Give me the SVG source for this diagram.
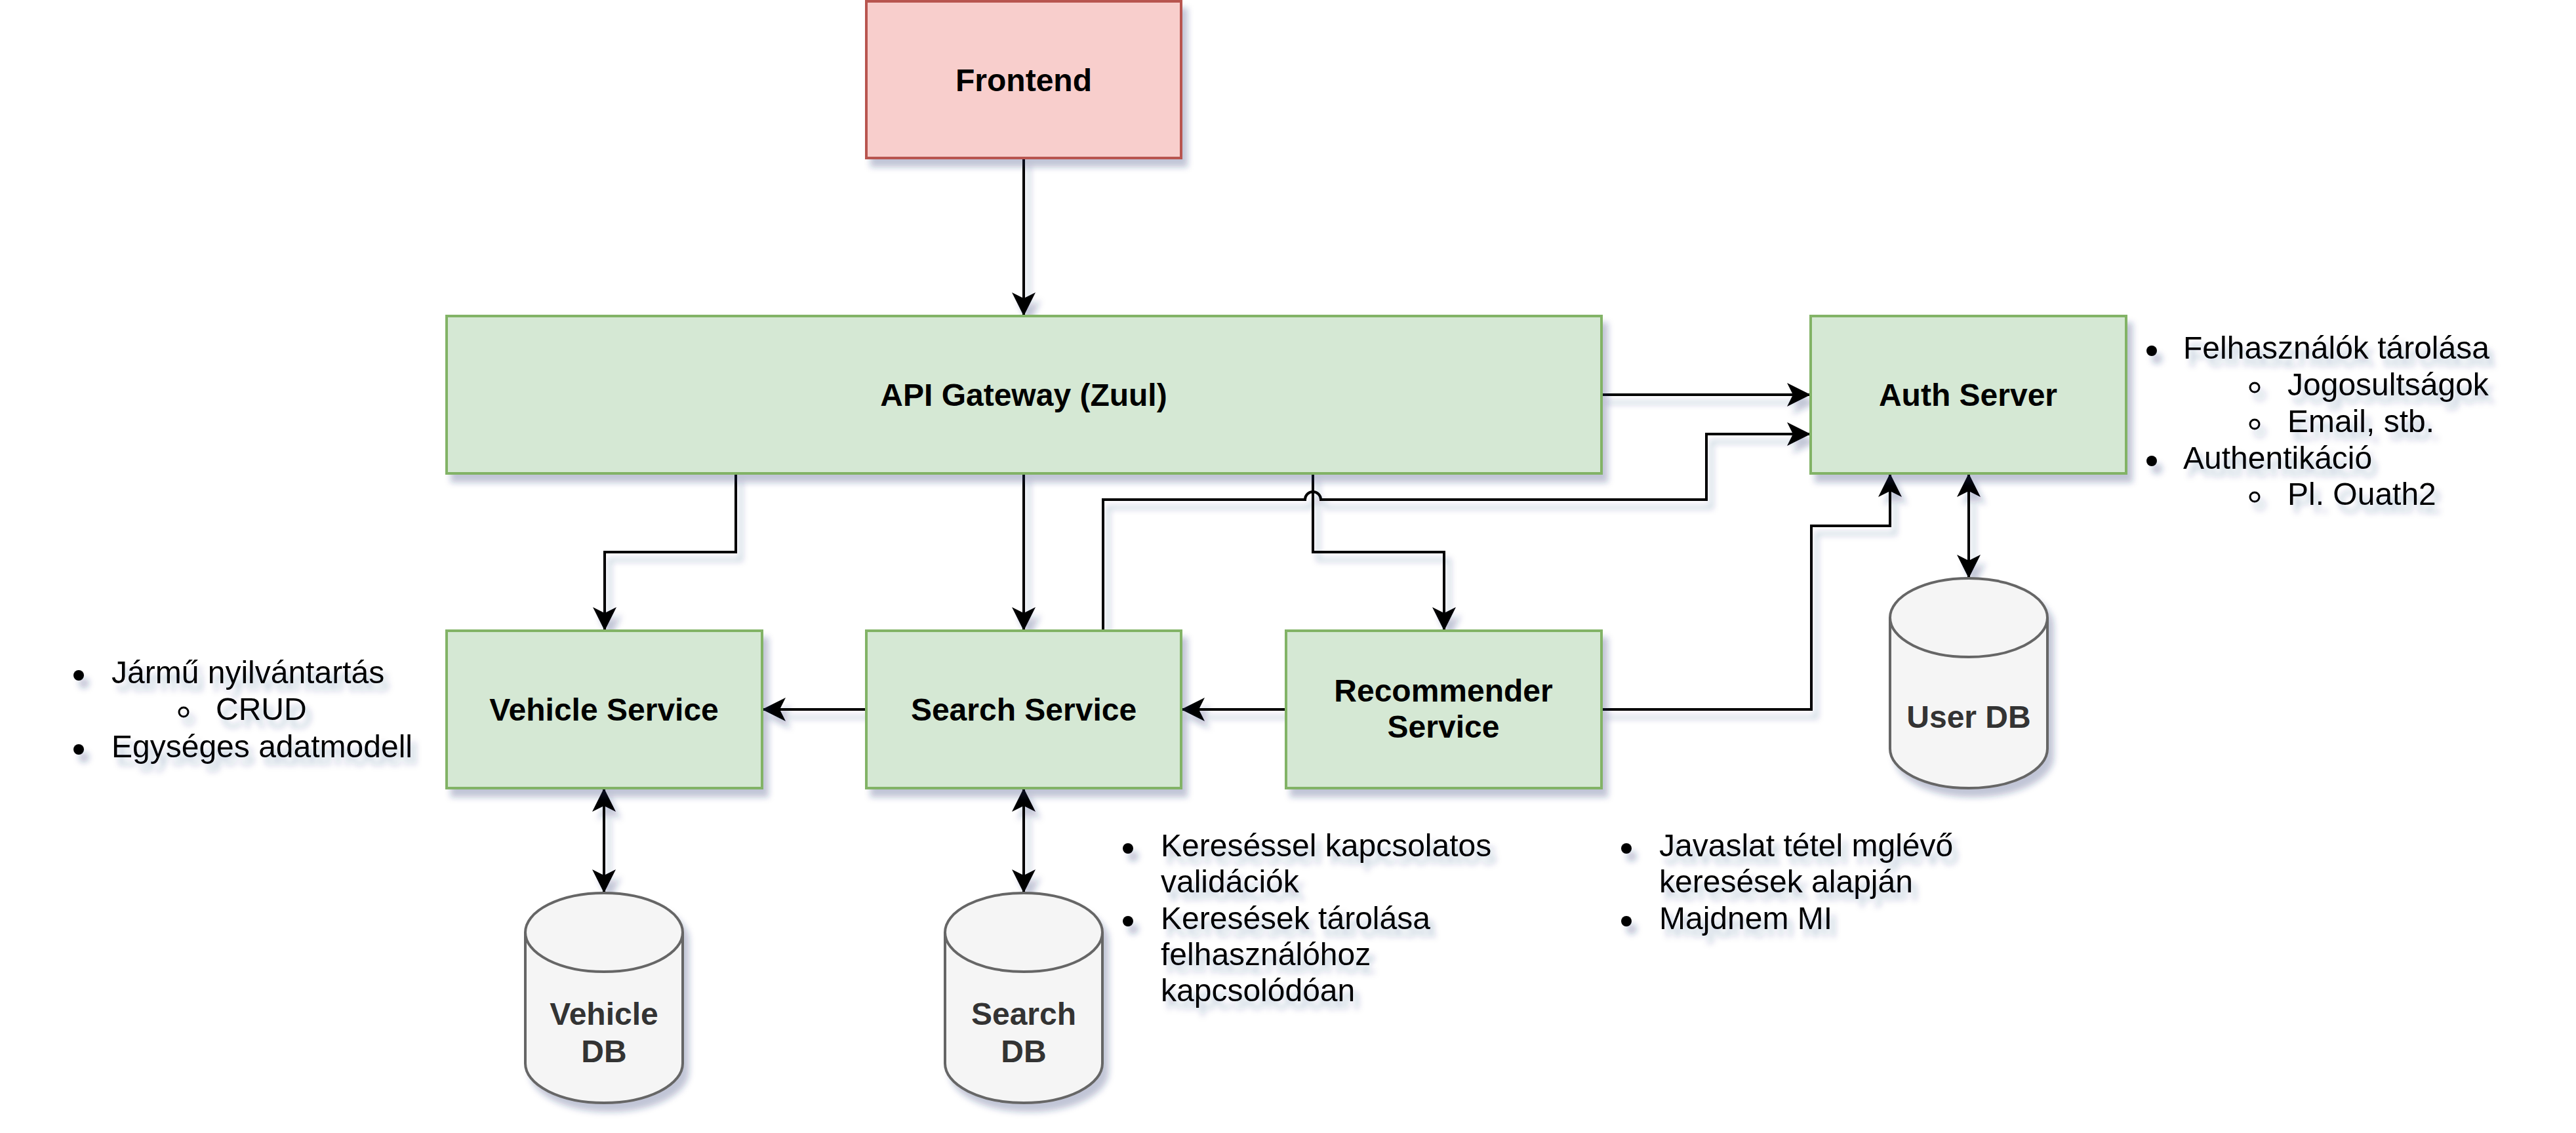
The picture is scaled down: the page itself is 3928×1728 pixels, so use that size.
<svg xmlns="http://www.w3.org/2000/svg" width="3928" height="1728" viewBox="0 0 3928 1728">
<defs>
<filter id="sh" filterUnits="userSpaceOnUse" x="0" y="0" width="3928" height="1728">
<feDropShadow dx="8" dy="12" stdDeviation="5" flood-color="#26306e" flood-opacity="0.28"/>
</filter>
<marker id="ah" markerUnits="userSpaceOnUse" markerWidth="40" markerHeight="40" viewBox="-38 -20 40 40" refX="0" refY="0" orient="auto-start-reverse">
<path d="M0,0 L-36,-18 L-27,0 L-36,18 Z" fill="#000"/>
</marker>
<style>
.box{fill:#d5e8d4;stroke:#82b366;stroke-width:4}
.fe{fill:#f8cecc;stroke:#b85450;stroke-width:4}
.db{fill:#f5f5f5;stroke:#666666;stroke-width:4}
.lbl{font-family:"Liberation Sans",Arial,sans-serif;font-size:48px;font-weight:bold;fill:#000;text-anchor:middle}
.dbl{font-family:"Liberation Sans",Arial,sans-serif;font-size:48px;font-weight:bold;fill:#333333;text-anchor:middle}
.lst{font-family:"Liberation Sans",Arial,sans-serif;font-size:48px;fill:#000}
.c{fill:none;stroke:#000;stroke-width:4}
.arr{marker-end:url(#ah)}
.bi{marker-start:url(#ah);marker-end:url(#ah)}
.sub{fill:none;stroke:#000;stroke-width:3}
</style>
</defs>
<rect width="3928" height="1728" fill="#ffffff"/>

<g id="connectors" filter="url(#sh)">
<path class="c arr" d="M1561,241 L1561,482"/>
<path class="c arr" d="M2442,602 L2761,602"/>
<path class="c arr" d="M1122,722 L1122,842 L922,842 L922,962"/>
<path class="c arr" d="M1561,722 L1561,962"/>
<path class="c arr" d="M2002,722 L2002,842 L2202,842 L2202,962"/>
<path class="c arr" d="M1682,962 L1682,762 L1990,762 A12,12 0 0 1 2014,762 L2602,762 L2602,662 L2761,662"/>
<path class="c arr" d="M1322,1082 L1162,1082"/>
<path class="c arr" d="M1961,1082 L1801,1082"/>
<path class="c arr" d="M2442,1082 L2762,1082 L2762,802 L2882,802 L2882,722"/>
<path class="c bi" d="M3002,722 L3002,882"/>
<path class="c bi" d="M921,1202 L921,1362"/>
<path class="c bi" d="M1561,1202 L1561,1362"/>
</g>

<g id="frontend">
<rect class="fe" x="1321" y="2" width="480" height="239" filter="url(#sh)"/>
<text class="lbl" x="1561" y="139">Frontend</text>
</g>
<g id="api-gateway">
<rect class="box" x="681" y="482" width="1761" height="240" filter="url(#sh)"/>
<text class="lbl" x="1561" y="619">API Gateway (Zuul)</text>
</g>
<g id="auth-server">
<rect class="box" x="2761" y="482" width="481" height="240" filter="url(#sh)"/>
<text class="lbl" x="3001" y="619">Auth Server</text>
</g>
<g id="vehicle-service">
<rect class="box" x="681" y="962" width="481" height="240" filter="url(#sh)"/>
<text class="lbl" x="921" y="1099">Vehicle Service</text>
</g>
<g id="search-service">
<rect class="box" x="1321" y="962" width="480" height="240" filter="url(#sh)"/>
<text class="lbl" x="1561" y="1099">Search Service</text>
</g>
<g id="recommender-service">
<rect class="box" x="1961" y="962" width="481" height="240" filter="url(#sh)"/>
<text class="lbl" x="2201" y="1070">Recommender</text>
<text class="lbl" x="2201" y="1125">Service</text>
</g>

<g id="user-db">
<g filter="url(#sh)">
<path class="db" d="M2882,942 A120,60 0 0 1 3122,942 L3122,1142 A120,60 0 0 1 2882,1142 Z"/>
<path class="db" d="M2882,942 A120,60 0 0 0 3122,942" fill="none"/>
</g>
<text class="dbl" x="3002" y="1110">User DB</text>
</g>
<g id="vehicle-db">
<g filter="url(#sh)">
<path class="db" d="M801,1422 A120,60 0 0 1 1041,1422 L1041,1622 A120,60 0 0 1 801,1622 Z"/>
<path class="db" d="M801,1422 A120,60 0 0 0 1041,1422" fill="none"/>
</g>
<text class="dbl" x="921" y="1563">Vehicle</text>
<text class="dbl" x="921" y="1620">DB</text>
</g>
<g id="search-db">
<g filter="url(#sh)">
<path class="db" d="M1441,1422 A120,60 0 0 1 1681,1422 L1681,1622 A120,60 0 0 1 1441,1622 Z"/>
<path class="db" d="M1441,1422 A120,60 0 0 0 1681,1422" fill="none"/>
</g>
<text class="dbl" x="1561" y="1563">Search</text>
<text class="dbl" x="1561" y="1620">DB</text>
</g>

<g id="auth-notes" filter="url(#sh)">
<circle cx="3281" cy="535" r="8"/>
<text class="lst" x="3329" y="547">Felhasználók tárolása</text>
<circle class="sub" cx="3438" cy="591" r="7"/>
<text class="lst" x="3488" y="603">Jogosultságok</text>
<circle class="sub" cx="3438" cy="647" r="7"/>
<text class="lst" x="3488" y="659">Email, stb.</text>
<circle cx="3281" cy="703" r="8"/>
<text class="lst" x="3329" y="715">Authentikáció</text>
<circle class="sub" cx="3438" cy="758" r="7"/>
<text class="lst" x="3488" y="770">Pl. Ouath2</text>
</g>

<g id="vehicle-notes" filter="url(#sh)">
<circle cx="120" cy="1030" r="8"/>
<text class="lst" x="170" y="1042">Jármű nyilvántartás</text>
<circle class="sub" cx="280" cy="1086" r="7"/>
<text class="lst" x="329" y="1098">CRUD</text>
<circle cx="120" cy="1143" r="8"/>
<text class="lst" x="170" y="1155">Egységes adatmodell</text>
</g>

<g id="search-notes" filter="url(#sh)">
<circle cx="1720" cy="1294" r="8"/>
<text class="lst" x="1770" y="1306">Kereséssel kapcsolatos</text>
<text class="lst" x="1770" y="1361">validációk</text>
<circle cx="1720" cy="1405" r="8"/>
<text class="lst" x="1770" y="1417">Keresések tárolása</text>
<text class="lst" x="1770" y="1472">felhasználóhoz</text>
<text class="lst" x="1770" y="1527">kapcsolódóan</text>
</g>

<g id="recommender-notes" filter="url(#sh)">
<circle cx="2480" cy="1294" r="8"/>
<text class="lst" x="2530" y="1306">Javaslat tétel mglévő</text>
<text class="lst" x="2530" y="1361">keresések alapján</text>
<circle cx="2480" cy="1405" r="8"/>
<text class="lst" x="2530" y="1417">Majdnem MI</text>
</g>
</svg>
